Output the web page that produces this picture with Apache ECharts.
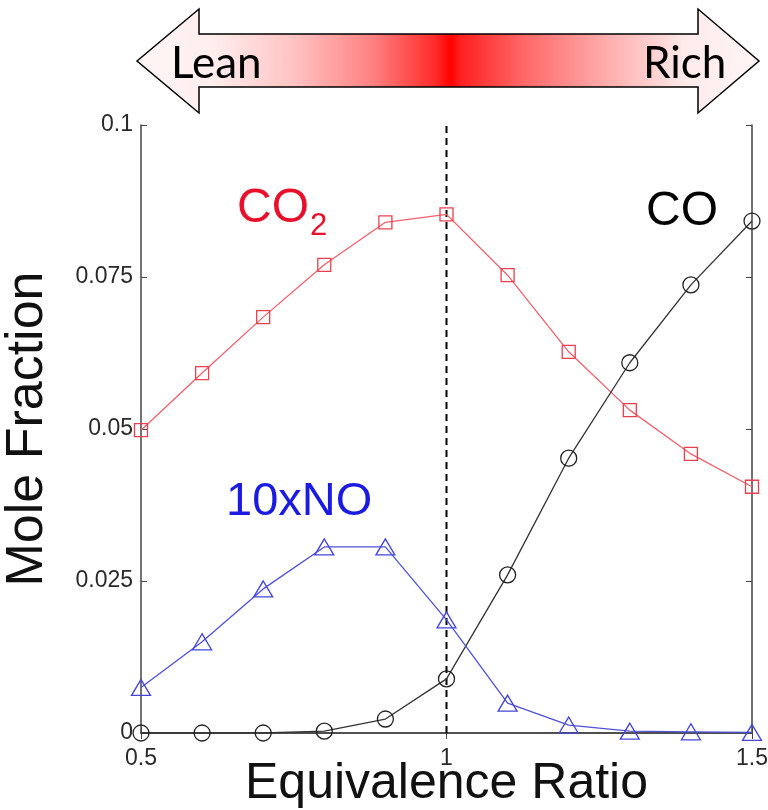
<!DOCTYPE html>
<html>
<head>
<meta charset="utf-8">
<title>Mole Fraction vs Equivalence Ratio</title>
<script src="https://cdn.jsdelivr.net/npm/echarts@6/dist/echarts.min.js"></script>
<style>
  html, body { margin: 0; padding: 0; background: #ffffff; }
  #chart { width: 768px; height: 810px; }
</style>
</head>
<body>
<div id="chart"></div>
<script>
// Equivalence ratio sweep (x) and product mole fractions (y)
const phi = [0.5, 0.6, 0.7, 0.8, 0.9, 1.0, 1.1, 1.2, 1.3, 1.4, 1.5];
const co2 = [0.0498, 0.0592, 0.0684, 0.0770, 0.0840, 0.0853, 0.0753, 0.0627, 0.0531, 0.0459, 0.0405];
const co = [0.0000, 0.0000, 0.0000, 0.0003, 0.0023, 0.0089, 0.0260, 0.0452, 0.0609, 0.0737, 0.0842];
const no10 = [0.0075, 0.0150, 0.0237, 0.0306, 0.0306, 0.0186, 0.0049, 0.0013, 0.0003, 0.0002, 0.0001];

// Stoichiometric marker (phi = 1)
const stoichX = [1.0, 1.0];
const stoichY = [0.0, 0.1];

// Axis ranges and ticks
const xMin = 0.5, xMax = 1.5, xStep = 0.5;
const yMin = 0, yMax = 0.1, yStep = 0.025;

const FONT = '"Liberation Sans", Arial, sans-serif';
const pairs = (xs, ys) => xs.map((x, i) => [x, ys[i]]);

const chart = echarts.init(document.getElementById('chart'), null, { renderer: 'canvas' });

const boxLine = { show: true, lineStyle: { color: '#444', width: 1.5 } };
const innerTick = { show: true, inside: true, length: 6, lineStyle: { color: '#444' } };

const option = {
  backgroundColor: '#ffffff',
  animation: false,
  grid: {
    left: 141, top: 125, right: 16, bottom: 77,
    containLabel: false,
    outerBoundsMode: 'none'
  },
  xAxis: [
    {
      type: 'value', min: xMin, max: xMax, interval: xStep,
      position: 'bottom',
      axisLine: boxLine,
      axisTick: innerTick,
      splitLine: { show: false },
      axisLabel: { color: '#2a2a2a', fontSize: 23, fontFamily: FONT, margin: 14 },
      name: 'Equivalence Ratio',
      nameLocation: 'middle',
      nameGap: 26,
      nameMoveOverlap: false,
      nameTextStyle: { color: '#111', fontSize: 50, fontFamily: FONT }
    },
    {
      type: 'value', min: xMin, max: xMax, interval: xStep,
      position: 'top',
      axisLine: boxLine,
      axisTick: innerTick,
      splitLine: { show: false },
      axisLabel: { show: false }
    }
  ],
  yAxis: [
    {
      type: 'value', min: yMin, max: yMax, interval: yStep,
      position: 'left',
      axisLine: boxLine,
      axisTick: innerTick,
      splitLine: { show: false },
      axisLabel: { color: '#2a2a2a', fontSize: 23, fontFamily: FONT, margin: 8 },
      name: 'Mole Fraction',
      nameLocation: 'middle',
      nameGap: 87,
      nameMoveOverlap: false,
      nameTextStyle: { color: '#111', fontSize: 52, fontFamily: FONT }
    },
    {
      type: 'value', min: yMin, max: yMax, interval: yStep,
      position: 'right',
      axisLine: boxLine,
      axisTick: innerTick,
      splitLine: { show: false },
      axisLabel: { show: false }
    }
  ],
  series: [
    {
      name: 'phi = 1',
      type: 'line',
      data: pairs(stoichX, stoichY),
      symbol: 'none',
      lineStyle: { color: '#000', width: 2, type: [7, 5] },
      z: 1
    },
    {
      name: 'CO2',
      type: 'line',
      data: pairs(phi, co2),
      symbol: 'rect',
      symbolSize: 13,
      lineStyle: { color: '#f0606c', width: 1.3 },
      itemStyle: { color: 'rgba(0,0,0,0)', borderColor: '#e8404e', borderWidth: 1.3 },
      z: 3
    },
    {
      name: 'CO',
      type: 'line',
      data: pairs(phi, co),
      symbol: 'circle',
      symbolSize: 16,
      lineStyle: { color: '#333', width: 1.3 },
      itemStyle: { color: 'rgba(0,0,0,0)', borderColor: '#222', borderWidth: 1.3 },
      z: 3
    },
    {
      name: '10xNO',
      type: 'line',
      data: pairs(phi, no10),
      symbol: 'triangle',
      symbolSize: [19, 16],
      lineStyle: { color: '#5050d8', width: 1.3 },
      itemStyle: { color: 'rgba(0,0,0,0)', borderColor: '#4545d8', borderWidth: 1.3 },
      z: 3
    }
  ],
  graphic: [
    // Lean / Rich double arrow with a red gradient peaking at stoichiometric
    {
      type: 'polygon',
      shape: {
        points: [[137, 61], [199, 9], [199, 34], [698, 34], [698, 9], [759, 61],
                 [698, 113], [698, 87], [199, 87], [199, 113]]
      },
      style: {
        fill: new echarts.graphic.LinearGradient(0, 0, 1, 0, [
          { offset: 0.00, color: '#fff6f6' },
          { offset: 0.12, color: '#ffeeee' },
          { offset: 0.25, color: '#ffc4c4' },
          { offset: 0.38, color: '#ff8080' },
          { offset: 0.48, color: '#ff2a2a' },
          { offset: 0.505, color: '#ff0000' },
          { offset: 0.52, color: '#ff2020' },
          { offset: 0.62, color: '#ff6666' },
          { offset: 0.75, color: '#ffaaaa' },
          { offset: 0.88, color: '#ffeaea' },
          { offset: 1.00, color: '#fff6f6' }
        ]),
        stroke: '#000',
        lineWidth: 1.5
      },
      z: 10
    },
    {
      type: 'text', left: 171, top: 42, z: 11,
      style: { text: 'Lean', fill: '#000', font: '44px Lato, "Open Sans", sans-serif' }
    },
    {
      type: 'text', left: 643, top: 42, z: 11,
      style: { text: 'Rich', fill: '#000', font: '44px Lato, "Open Sans", sans-serif' }
    },
    // Species labels
    {
      type: 'text', left: 237, top: 185, z: 11,
      style: { text: 'CO', fill: '#e8102a', font: '48px ' + FONT }
    },
    {
      type: 'text', left: 310, top: 211, z: 11,
      style: { text: '2', fill: '#e8102a', font: '31px ' + FONT }
    },
    {
      type: 'text', left: 646, top: 188, z: 11,
      style: { text: 'CO', fill: '#000', font: '48px ' + FONT }
    },
    {
      type: 'text', left: 226, top: 479, z: 11,
      style: { text: '10xNO', fill: '#1a1ae0', font: '47px ' + FONT }
    }
  ]
};

chart.setOption(option);
</script>
</body>
</html>
